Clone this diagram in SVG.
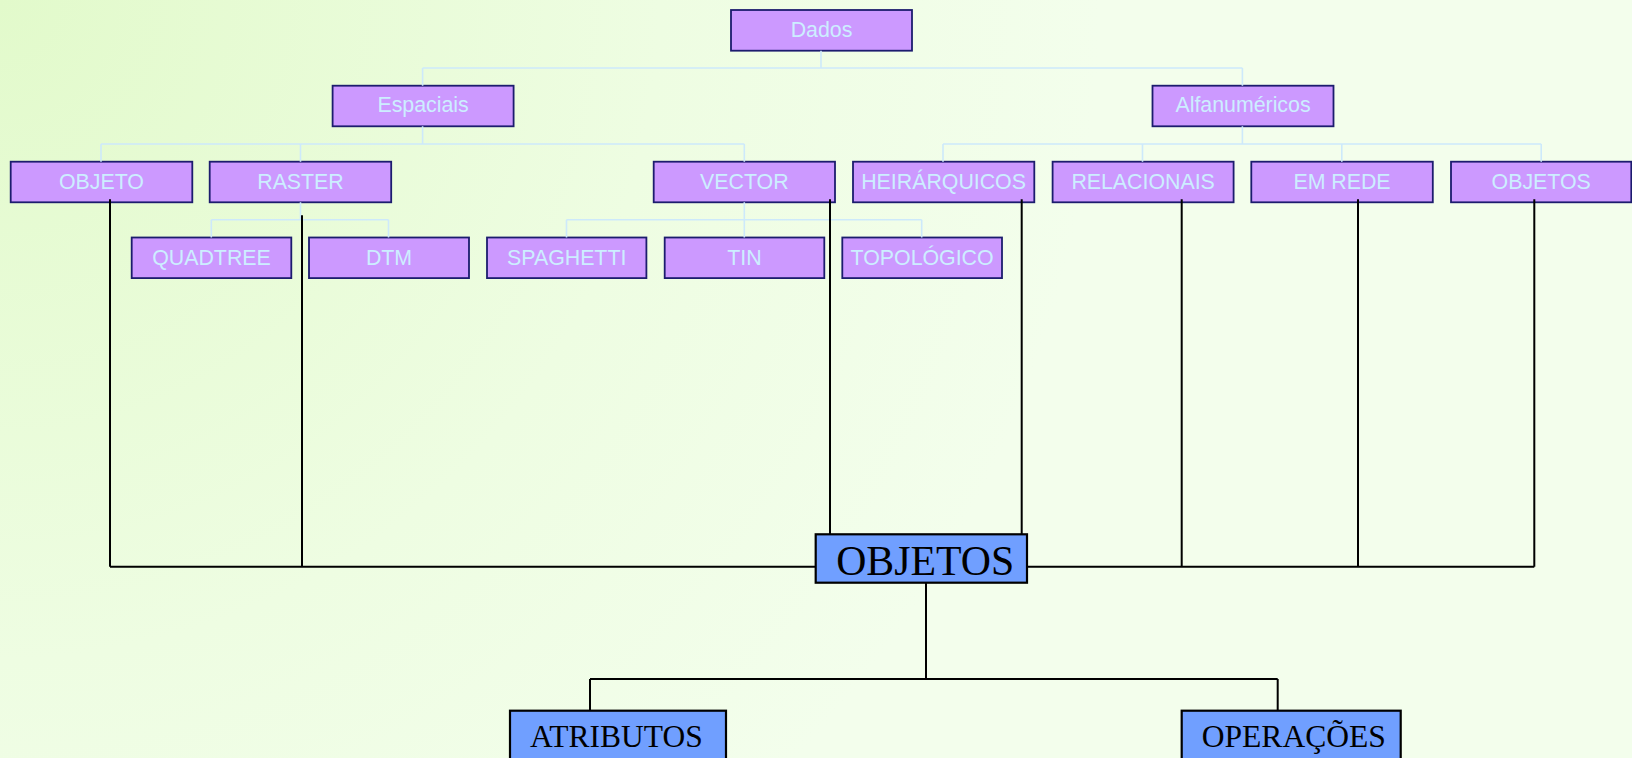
<svg xmlns="http://www.w3.org/2000/svg" width="1632" height="758" viewBox="0 0 1632 758">
<defs>
<radialGradient id="bg" cx="0" cy="0" r="1100" gradientUnits="userSpaceOnUse">
<stop offset="0" stop-color="#e2facb"/>
<stop offset="0.6" stop-color="#eefde2"/>
<stop offset="1" stop-color="#f3feec"/>
</radialGradient>
<style>
.p rect{fill:#cc99ff;stroke:#1c1c6e;stroke-width:1.8}
.p text{fill:#cceeff;font-family:"Liberation Sans",Arial,sans-serif;font-size:21.33px;text-anchor:middle}
.b rect{fill:#709fff;stroke:#000;stroke-width:2.2}
.b text{fill:#000;font-family:"Liberation Serif","Times New Roman",serif;text-anchor:middle}
.lc{stroke:#cde9fb;stroke-width:1.6;fill:none}
.bc{stroke:#000;stroke-width:2;fill:none}
</style>
</defs>
<rect width="1632" height="758" fill="url(#bg)"/>
<g id="nodes">
<g id="n-dados" class="p"><rect x="731" y="10" width="181" height="40.7"/><text x="821.5" y="36.8">Dados</text></g>
<g id="n-espaciais" class="p"><rect x="332.6" y="85.7" width="181" height="40.6"/><text x="423.1" y="112.3">Espaciais</text></g>
<g id="n-alfanumericos" class="p"><rect x="1152.5" y="85.7" width="181" height="40.6"/><text x="1243" y="112.3">Alfanuméricos</text></g>
<g id="n-objeto" class="p"><rect x="10.7" y="161.7" width="181.6" height="40.6"/><text x="101.5" y="189">OBJETO</text></g>
<g id="n-raster" class="p"><rect x="209.7" y="161.7" width="181.5" height="40.6"/><text x="300.5" y="189">RASTER</text></g>
<g id="n-vector" class="p"><rect x="653.7" y="161.7" width="181.3" height="40.6"/><text x="744.3" y="189">VECTOR</text></g>
<g id="n-heirarquicos" class="p"><rect x="853" y="161.7" width="181.3" height="40.6"/><text x="943.6" y="189">HEIRÁRQUICOS</text></g>
<g id="n-relacionais" class="p"><rect x="1052.6" y="161.7" width="181" height="40.6"/><text x="1143.1" y="189">RELACIONAIS</text></g>
<g id="n-emrede" class="p"><rect x="1251.3" y="161.7" width="181.5" height="40.6"/><text x="1342" y="189">EM REDE</text></g>
<g id="n-objetos-alfa" class="p"><rect x="1451" y="161.7" width="180.3" height="40.6"/><text x="1541.2" y="189">OBJETOS</text></g>
<g id="n-quadtree" class="p"><rect x="131.7" y="237.5" width="159.6" height="40.6"/><text x="211.5" y="264.8">QUADTREE</text></g>
<g id="n-dtm" class="p"><rect x="309" y="237.5" width="160" height="40.6"/><text x="389" y="264.8">DTM</text></g>
<g id="n-spaghetti" class="p"><rect x="487" y="237.5" width="159.4" height="40.6"/><text x="566.7" y="264.8">SPAGHETTI</text></g>
<g id="n-tin" class="p"><rect x="664.7" y="237.5" width="159.6" height="40.6"/><text x="744.5" y="264.8">TIN</text></g>
<g id="n-topologico" class="p"><rect x="842.3" y="237.5" width="159.7" height="40.6"/><text x="922.1" y="264.8">TOPOLÓGICO</text></g>
<g id="n-objetos" class="b"><rect x="815.7" y="534.3" width="211.3" height="48.4"/><text x="925.2" y="575.3" font-size="43" textLength="178" lengthAdjust="spacingAndGlyphs">OBJETOS</text></g>
<g id="n-atributos" class="b"><rect x="510" y="710.7" width="216" height="60"/><text x="616.4" y="747.3" font-size="31" textLength="172.7" lengthAdjust="spacingAndGlyphs">ATRIBUTOS</text></g>
<g id="n-operacoes" class="b"><rect x="1181.7" y="710.7" width="219" height="60"/><text x="1293.8" y="747.3" font-size="31" textLength="184.3" lengthAdjust="spacingAndGlyphs">OPERAÇÕES</text></g>
</g>
<g id="connectors">
<g class="lc">
<path d="M821 50.7V68M422.6 68H1242.4M422.6 68V85.7M1242.4 68V85.7"/>
<path d="M422.6 126.3V144M101 144H744.3M101 144V161.7M300.5 144V161.7M744.3 144V161.7"/>
<path d="M1242.4 126.3V144M943 144H1541.2M943 144V161.7M1142.5 144V161.7M1341.8 144V161.7M1541.2 144V161.7"/>
<path d="M300.5 202.3V219.7M211.3 219.7H388.5M211.3 219.7V237.5M388.5 219.7V237.5"/>
<path d="M744.3 202.3V219.7M566.5 219.7H921.7M566.5 219.7V237.5M744.3 219.7V237.5M921.7 219.7V237.5"/>
</g>
<g class="bc">
<path d="M110 199.3V566.7M302 215.3V566.7M110 566.7H815.7M1027 566.7H1534.3"/>
<path d="M830 199.3V534.3M1021.7 199.3V534.3M1181.7 199.3V566.7M1358 199.3V566.7M1534.3 199.3V566.7"/>
<path d="M926 582.7V679M590 679H1277.7M590 679V710.7M1277.7 679V710.7"/>
</g>
</g>
</svg>
